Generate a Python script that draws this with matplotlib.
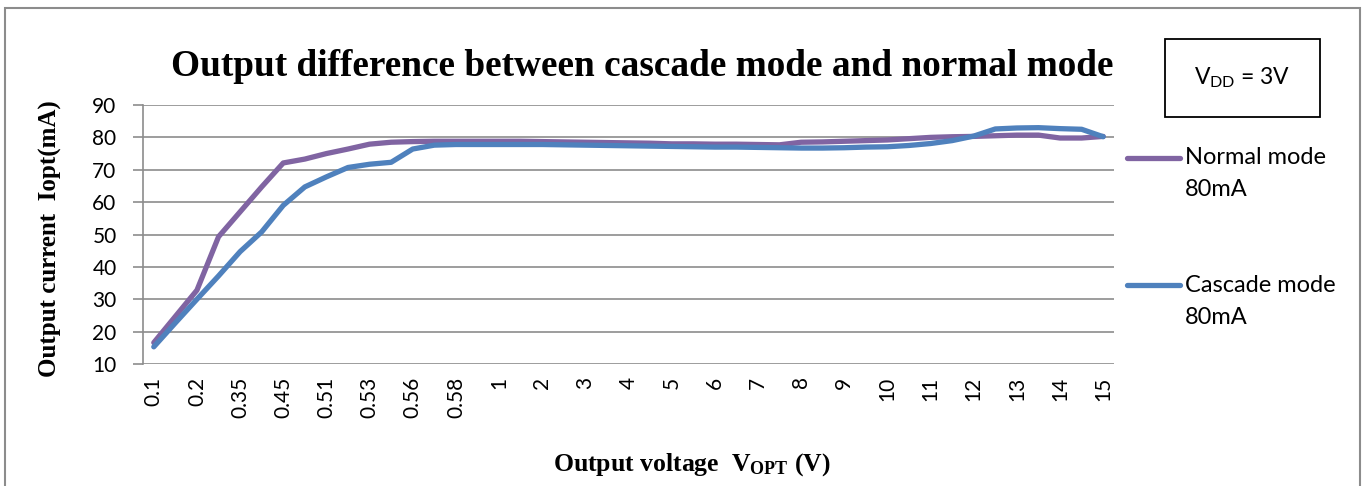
import matplotlib
matplotlib.use('Agg')
import matplotlib.pyplot as plt
from matplotlib.lines import Line2D
from matplotlib.patches import Rectangle

plt.rcParams['mathtext.fontset'] = 'custom'
plt.rcParams['mathtext.rm'] = 'Lato'
plt.rcParams['mathtext.bf'] = 'Liberation Serif:bold'

# output voltage categories (V), only every other one is labelled
voltages = ['0.1', '0.15', '0.2', '0.3', '0.35', '0.4', '0.45', '0.5', '0.51', '0.52',
            '0.53', '0.55', '0.56', '0.57', '0.58', '0.6', '1', '1.5', '2', '2.5',
            '3', '3.5', '4', '4.5', '5', '5.5', '6', '6.5', '7', '7.5',
            '8', '8.5', '9', '9.5', '10', '10.5', '11', '11.5', '12', '12.5',
            '13', '13.5', '14', '14.5', '15']

normal_80 = [16.6, 24.7, 32.8, 49.3, 57.0, 64.7, 72.1, 73.3, 75.0, 76.4,
             77.9, 78.5, 78.7, 78.8, 78.8, 78.8, 78.8, 78.8, 78.7, 78.6,
             78.5, 78.4, 78.3, 78.2, 78.0, 78.0, 77.9, 77.9, 77.8, 77.7,
             78.5, 78.6, 78.8, 79.0, 79.2, 79.6, 80.0, 80.2, 80.3, 80.5,
             80.7, 80.7, 79.8, 79.8, 80.3]

cascade_80 = [15.3, 22.7, 30.0, 37.2, 44.7, 50.8, 59.0, 64.7, 67.8, 70.7,
              71.7, 72.3, 76.4, 77.6, 77.8, 77.8, 77.8, 77.8, 77.8, 77.7,
              77.6, 77.5, 77.4, 77.3, 77.2, 77.1, 77.0, 77.0, 76.9, 76.8,
              76.7, 76.7, 76.8, 77.0, 77.1, 77.5, 78.1, 79.0, 80.4, 82.6,
              82.9, 83.0, 82.7, 82.5, 80.2]

purple = '#8064A2'
blue = '#4F81BD'
grid_gray = '#8c8c8c'

fig = plt.figure(figsize=(13.68, 4.86), dpi=100)
ax = fig.add_axes([143 / 1368, 122 / 486, 971 / 1368, 259 / 486])

x = list(range(len(voltages)))
ax.plot(x, normal_80, color=purple, lw=3.8, solid_capstyle='round', solid_joinstyle='round')
ax.plot(x, cascade_80, color=blue, lw=3.8, solid_capstyle='round', solid_joinstyle='round')

ax.set_xlim(-0.5, len(voltages) - 0.5)
ax.set_ylim(10, 90)
ax.set_yticks(range(10, 91, 10))
ax.set_xticks(x[::2])
ax.set_xticklabels(voltages[::2], rotation=90, family='Lato', fontsize=15)
ax.tick_params(axis='x', length=0, pad=9)
ax.tick_params(axis='y', length=7, width=1.2, color=grid_gray, pad=12, labelsize=15)
for lab in ax.get_yticklabels():
    lab.set_family('Lato')

ax.grid(axis='y', color=grid_gray, lw=1.2)
ax.set_axisbelow(True)
for s in ['top', 'right', 'bottom']:
    ax.spines[s].set_visible(False)
ax.spines['left'].set_color(grid_gray)
ax.spines['left'].set_linewidth(1.2)

# titles
fig.text(642 / 1368, 1 - 67 / 486, 'Output difference between cascade mode and normal mode',
         family='Liberation Serif', weight='bold', fontsize=26.8, ha='center', va='center')
fig.text(50 / 1368, 1 - 239 / 486, 'Output current  Iopt(mA)', family='Liberation Serif',
         weight='bold', fontsize=18, rotation=90, ha='center', va='center')
fig.text(692 / 1368, 1 - 465 / 486, r'Output voltage  $\mathbf{V_{OPT}}$ (V)',
         family='Liberation Serif', weight='bold', fontsize=18.5, ha='center', va='center')

# legend drawn by hand, text wraps under the label line
legend_items = [('Normal mode', purple, 158), ('Cascade mode', blue, 285)]
for name, col, ypx in legend_items:
    yf = 1 - ypx / 486
    fig.add_artist(Line2D([1127 / 1368, 1180 / 1368], [yf, yf], color=col, lw=3.8,
                          solid_capstyle='round', transform=fig.transFigure))
    fig.text(1185 / 1368, yf, name, family='Lato', fontsize=17, va='center')
    fig.text(1185 / 1368, yf - 32 / 486, '80mA', family='Lato', fontsize=17, va='center')

# supply voltage box
fig.add_artist(Rectangle((1165 / 1368, 1 - 117 / 486), 155 / 1368, 78 / 486, fill=False,
                         ec='black', lw=1.3, transform=fig.transFigure))
fig.text(1242 / 1368, 1 - 78 / 486, r'$\mathrm{V_{DD}}$ = 3V', family='Lato', fontsize=16.5,
         ha='center', va='center')

# chart area frame
fig.add_artist(Rectangle((5 / 1368, -0.1), 1355 / 1368, 1.1 - 8 / 486, fill=False,
                         ec='#8c8c8c', lw=1.5, transform=fig.transFigure))

fig.savefig('out.png', dpi=100)
